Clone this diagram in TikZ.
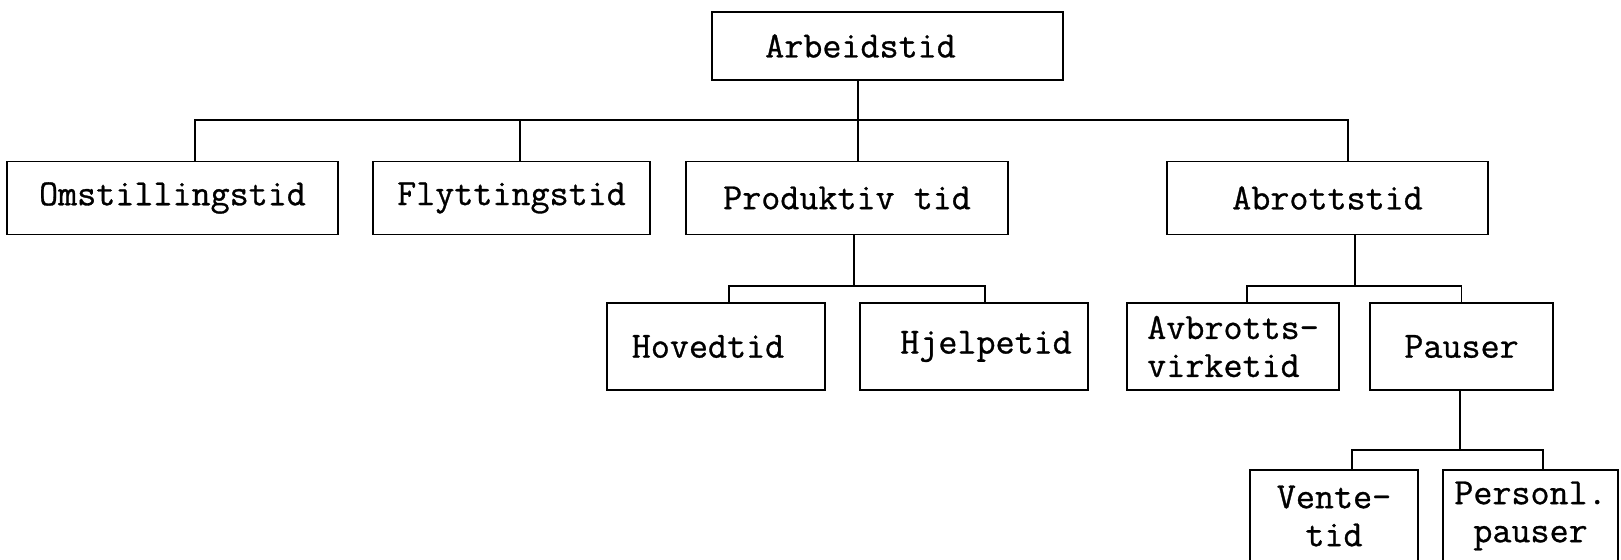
\documentclass[tikz,border=0pt]{standalone}
\usepackage{fontspec}
\setmainfont{Latin Modern Mono}[FakeBold=0.8]
\begin{document}
\begin{tikzpicture}[x=0.5pt,y=-0.5pt,
    kasse/.style={draw,line width=0.9pt,inner sep=0pt,font=\fontsize{18.5}{19}\selectfont},
    linje/.style={line width=0.8pt}]
      \useasboundingbox (0,0) rectangle (1621,560);
      \node[kasse,minimum width=175.5pt,minimum height=34pt] (arb) at (887.5,46) {\kern-27pt Arbeidstid};
      \node[kasse,minimum width=165.5pt,minimum height=36.5pt] (omst) at (172.5,198) {Omstillingstid};
      \node[kasse,minimum width=138.5pt,minimum height=36.5pt] (flytt) at (511.5,198) {Flyttingstid};
      \node[kasse,minimum width=161pt,minimum height=36.5pt] (prod) at (847,198) {Produktiv tid};
      \node[kasse,minimum width=160.5pt,minimum height=36.5pt] (abro) at (1327.5,198) {Abrottstid};
      \node[kasse,minimum width=109pt,minimum height=43.5pt] (hoved) at (716,346.5) {\kern-8pt Hovedtid};
      \node[kasse,minimum width=114pt,minimum height=43.5pt] (hjelpe) at (974,346.5) {\kern12pt Hjelpetid};
      \node[kasse,minimum width=106pt,minimum height=43.5pt,align=left] (avbr) at (1233,346.5) {Avbrotts-\\virketid};
      \node[kasse,minimum width=91.5pt,minimum height=43.5pt] (pauser) at (1461.5,346.5) {Pauser};
      \node[kasse,minimum width=84pt,minimum height=46pt,align=center] (vente) at (1334,516) {Vente-\\tid};
      \node[kasse,minimum width=87.5pt,minimum height=46pt,align=center] (personl) at (1530.5,516) {Personl.\\pauser};
      \coordinate (j1) at (858,120);
      \coordinate (j2) at (854,286);
      \coordinate (j3) at (1355,286);
      \coordinate (j4) at (1460,450);
      \begin{scope}[linje]
        \draw (j1 |- arb.south) -- (j1 |- prod.north);
        \draw ([xshift=11.25pt]omst.north) |- ([xshift=10.25pt]abro.north |- j1) -- ([xshift=10.25pt]abro.north);
        \draw ([xshift=4.25pt]flytt.north) -- ([xshift=4.25pt]flytt.north |- j1);
        \draw (j2 |- prod.south) -- (j2);
        \draw ([xshift=6.5pt]hoved.north) |- ([xshift=5.5pt]hjelpe.north |- j2) -- ([xshift=5.5pt]hjelpe.north);
        \draw (j3 |- abro.south) -- (j3);
        \draw ([xshift=7pt]avbr.north) |- (pauser.north |- j3) -- (pauser.north);
        \draw (j4 |- pauser.south) -- (j4);
        \draw ([xshift=9pt]vente.north) |- ([xshift=6.25pt]personl.north |- j4) -- ([xshift=6.25pt]personl.north);
      \end{scope}
    \end{tikzpicture}
\end{document}
